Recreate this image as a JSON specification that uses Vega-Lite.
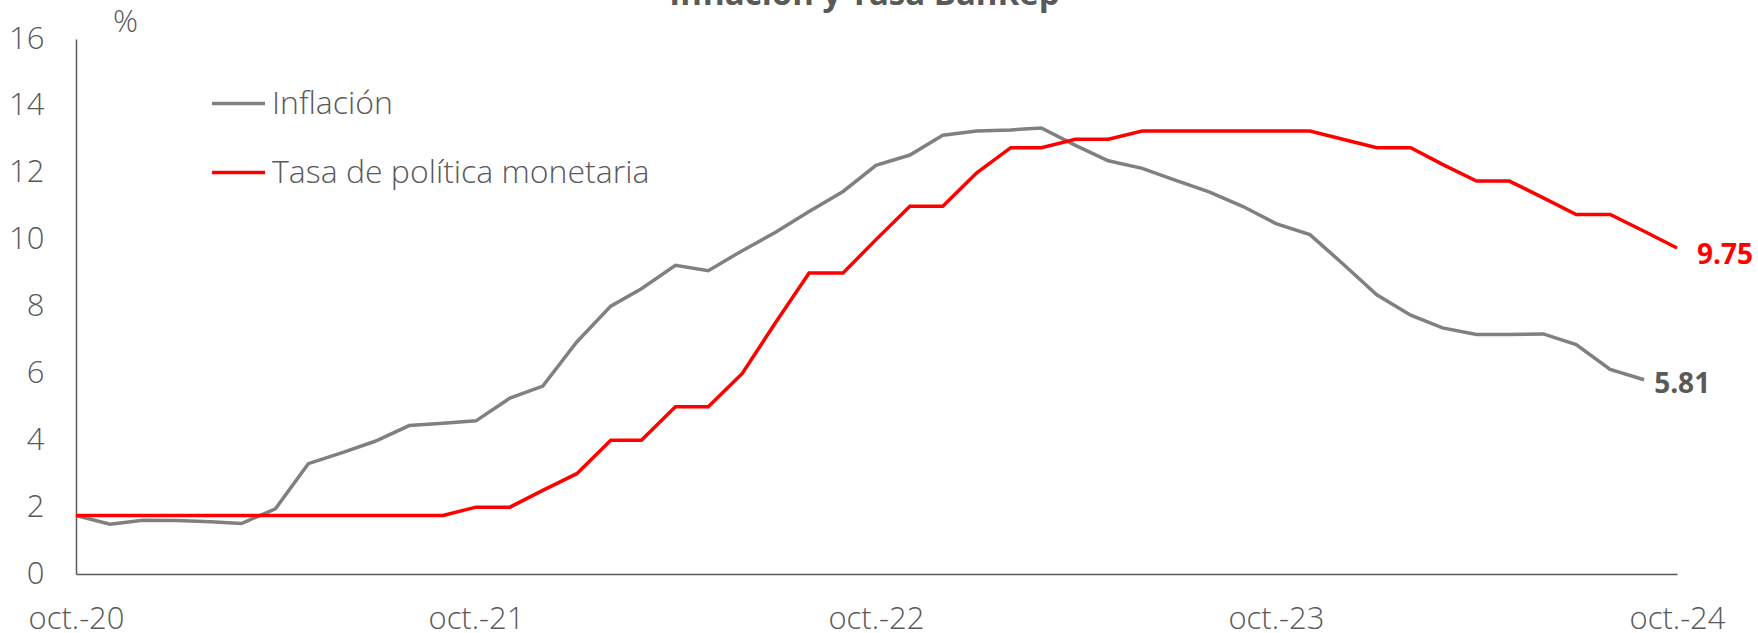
{
  "$schema": "https://vega.github.io/schema/vega-lite/v6.json",
  "width": 1601,
  "height": 535,
  "autosize": {"type": "none"},
  "padding": {"left": 76, "top": 39, "right": 81, "bottom": 59},
  "title": {"text": "Inflación y Tasa BanRep", "fontSize": 33, "font": "Open Sans", "fontWeight": "bold", "color": "#595959", "anchor": "middle", "baseline": "alphabetic", "offset": -32, "dx": -12},
  "config": {"view": {"stroke": null}, "font": "Open Sans"},
  "data": {"values": [
    {"fecha": "2020-10-01", "serie": "Inflación", "valor": 1.75},
    {"fecha": "2020-11-01", "serie": "Inflación", "valor": 1.49},
    {"fecha": "2020-12-01", "serie": "Inflación", "valor": 1.61},
    {"fecha": "2021-01-01", "serie": "Inflación", "valor": 1.60},
    {"fecha": "2021-02-01", "serie": "Inflación", "valor": 1.56},
    {"fecha": "2021-03-01", "serie": "Inflación", "valor": 1.51},
    {"fecha": "2021-04-01", "serie": "Inflación", "valor": 1.95},
    {"fecha": "2021-05-01", "serie": "Inflación", "valor": 3.30},
    {"fecha": "2021-06-01", "serie": "Inflación", "valor": 3.63},
    {"fecha": "2021-07-01", "serie": "Inflación", "valor": 3.97},
    {"fecha": "2021-08-01", "serie": "Inflación", "valor": 4.44},
    {"fecha": "2021-09-01", "serie": "Inflación", "valor": 4.51},
    {"fecha": "2021-10-01", "serie": "Inflación", "valor": 4.58},
    {"fecha": "2021-11-01", "serie": "Inflación", "valor": 5.26},
    {"fecha": "2021-12-01", "serie": "Inflación", "valor": 5.62},
    {"fecha": "2022-01-01", "serie": "Inflación", "valor": 6.94},
    {"fecha": "2022-02-01", "serie": "Inflación", "valor": 8.01},
    {"fecha": "2022-03-01", "serie": "Inflación", "valor": 8.53},
    {"fecha": "2022-04-01", "serie": "Inflación", "valor": 9.23},
    {"fecha": "2022-05-01", "serie": "Inflación", "valor": 9.07},
    {"fecha": "2022-06-01", "serie": "Inflación", "valor": 9.67},
    {"fecha": "2022-07-01", "serie": "Inflación", "valor": 10.21},
    {"fecha": "2022-08-01", "serie": "Inflación", "valor": 10.84},
    {"fecha": "2022-09-01", "serie": "Inflación", "valor": 11.44},
    {"fecha": "2022-10-01", "serie": "Inflación", "valor": 12.22},
    {"fecha": "2022-11-01", "serie": "Inflación", "valor": 12.53},
    {"fecha": "2022-12-01", "serie": "Inflación", "valor": 13.12},
    {"fecha": "2023-01-01", "serie": "Inflación", "valor": 13.25},
    {"fecha": "2023-02-01", "serie": "Inflación", "valor": 13.28},
    {"fecha": "2023-03-01", "serie": "Inflación", "valor": 13.34},
    {"fecha": "2023-04-01", "serie": "Inflación", "valor": 12.82},
    {"fecha": "2023-05-01", "serie": "Inflación", "valor": 12.36},
    {"fecha": "2023-06-01", "serie": "Inflación", "valor": 12.13},
    {"fecha": "2023-07-01", "serie": "Inflación", "valor": 11.78},
    {"fecha": "2023-08-01", "serie": "Inflación", "valor": 11.43},
    {"fecha": "2023-09-01", "serie": "Inflación", "valor": 10.99},
    {"fecha": "2023-10-01", "serie": "Inflación", "valor": 10.48},
    {"fecha": "2023-11-01", "serie": "Inflación", "valor": 10.15},
    {"fecha": "2023-12-01", "serie": "Inflación", "valor": 9.28},
    {"fecha": "2024-01-01", "serie": "Inflación", "valor": 8.35},
    {"fecha": "2024-02-01", "serie": "Inflación", "valor": 7.74},
    {"fecha": "2024-03-01", "serie": "Inflación", "valor": 7.36},
    {"fecha": "2024-04-01", "serie": "Inflación", "valor": 7.16},
    {"fecha": "2024-05-01", "serie": "Inflación", "valor": 7.16},
    {"fecha": "2024-06-01", "serie": "Inflación", "valor": 7.18},
    {"fecha": "2024-07-01", "serie": "Inflación", "valor": 6.86},
    {"fecha": "2024-08-01", "serie": "Inflación", "valor": 6.12},
    {"fecha": "2024-09-01", "serie": "Inflación", "valor": 5.81},
    {"fecha": "2020-10-01", "serie": "Tasa de política monetaria", "valor": 1.75},
    {"fecha": "2020-11-01", "serie": "Tasa de política monetaria", "valor": 1.75},
    {"fecha": "2020-12-01", "serie": "Tasa de política monetaria", "valor": 1.75},
    {"fecha": "2021-01-01", "serie": "Tasa de política monetaria", "valor": 1.75},
    {"fecha": "2021-02-01", "serie": "Tasa de política monetaria", "valor": 1.75},
    {"fecha": "2021-03-01", "serie": "Tasa de política monetaria", "valor": 1.75},
    {"fecha": "2021-04-01", "serie": "Tasa de política monetaria", "valor": 1.75},
    {"fecha": "2021-05-01", "serie": "Tasa de política monetaria", "valor": 1.75},
    {"fecha": "2021-06-01", "serie": "Tasa de política monetaria", "valor": 1.75},
    {"fecha": "2021-07-01", "serie": "Tasa de política monetaria", "valor": 1.75},
    {"fecha": "2021-08-01", "serie": "Tasa de política monetaria", "valor": 1.75},
    {"fecha": "2021-09-01", "serie": "Tasa de política monetaria", "valor": 1.75},
    {"fecha": "2021-10-01", "serie": "Tasa de política monetaria", "valor": 2.0},
    {"fecha": "2021-11-01", "serie": "Tasa de política monetaria", "valor": 2.0},
    {"fecha": "2021-12-01", "serie": "Tasa de política monetaria", "valor": 2.5},
    {"fecha": "2022-01-01", "serie": "Tasa de política monetaria", "valor": 3.0},
    {"fecha": "2022-02-01", "serie": "Tasa de política monetaria", "valor": 4.0},
    {"fecha": "2022-03-01", "serie": "Tasa de política monetaria", "valor": 4.0},
    {"fecha": "2022-04-01", "serie": "Tasa de política monetaria", "valor": 5.0},
    {"fecha": "2022-05-01", "serie": "Tasa de política monetaria", "valor": 5.0},
    {"fecha": "2022-06-01", "serie": "Tasa de política monetaria", "valor": 6.0},
    {"fecha": "2022-07-01", "serie": "Tasa de política monetaria", "valor": 7.5},
    {"fecha": "2022-08-01", "serie": "Tasa de política monetaria", "valor": 9.0},
    {"fecha": "2022-09-01", "serie": "Tasa de política monetaria", "valor": 9.0},
    {"fecha": "2022-10-01", "serie": "Tasa de política monetaria", "valor": 10.0},
    {"fecha": "2022-11-01", "serie": "Tasa de política monetaria", "valor": 11.0},
    {"fecha": "2022-12-01", "serie": "Tasa de política monetaria", "valor": 11.0},
    {"fecha": "2023-01-01", "serie": "Tasa de política monetaria", "valor": 12.0},
    {"fecha": "2023-02-01", "serie": "Tasa de política monetaria", "valor": 12.75},
    {"fecha": "2023-03-01", "serie": "Tasa de política monetaria", "valor": 12.75},
    {"fecha": "2023-04-01", "serie": "Tasa de política monetaria", "valor": 13.0},
    {"fecha": "2023-05-01", "serie": "Tasa de política monetaria", "valor": 13.0},
    {"fecha": "2023-06-01", "serie": "Tasa de política monetaria", "valor": 13.25},
    {"fecha": "2023-07-01", "serie": "Tasa de política monetaria", "valor": 13.25},
    {"fecha": "2023-08-01", "serie": "Tasa de política monetaria", "valor": 13.25},
    {"fecha": "2023-09-01", "serie": "Tasa de política monetaria", "valor": 13.25},
    {"fecha": "2023-10-01", "serie": "Tasa de política monetaria", "valor": 13.25},
    {"fecha": "2023-11-01", "serie": "Tasa de política monetaria", "valor": 13.25},
    {"fecha": "2023-12-01", "serie": "Tasa de política monetaria", "valor": 13.0},
    {"fecha": "2024-01-01", "serie": "Tasa de política monetaria", "valor": 12.75},
    {"fecha": "2024-02-01", "serie": "Tasa de política monetaria", "valor": 12.75},
    {"fecha": "2024-03-01", "serie": "Tasa de política monetaria", "valor": 12.25},
    {"fecha": "2024-04-01", "serie": "Tasa de política monetaria", "valor": 11.75},
    {"fecha": "2024-05-01", "serie": "Tasa de política monetaria", "valor": 11.75},
    {"fecha": "2024-06-01", "serie": "Tasa de política monetaria", "valor": 11.25},
    {"fecha": "2024-07-01", "serie": "Tasa de política monetaria", "valor": 10.75},
    {"fecha": "2024-08-01", "serie": "Tasa de política monetaria", "valor": 10.75},
    {"fecha": "2024-09-01", "serie": "Tasa de política monetaria", "valor": 10.25},
    {"fecha": "2024-10-01", "serie": "Tasa de política monetaria", "valor": 9.75}
  ]},
  "encoding": {
    "x": {
      "field": "fecha", "type": "temporal",
      "scale": {"type": "utc", "domain": [{"year": 2020, "month": 10, "date": 1, "utc": true}, {"year": 2024, "month": 10, "date": 1, "utc": true}]},
      "axis": {
        "title": null,
        "values": [
          {"year": 2020, "month": 10, "date": 1, "utc": true},
          {"year": 2021, "month": 10, "date": 1, "utc": true},
          {"year": 2022, "month": 10, "date": 1, "utc": true},
          {"year": 2023, "month": 10, "date": 1, "utc": true},
          {"year": 2024, "month": 10, "date": 1, "utc": true}
        ],
        "labelExpr": "'oct.-' + utcFormat(datum.value, '%y')",
        "labelFlush": false,
        "labelOverlap": false,
        "grid": false,
        "ticks": false,
        "domainColor": "#595959",
        "domainWidth": 1.5,
        "labelFontSize": 31,
        "labelFontWeight": 300,
        "labelColor": "#595959",
        "labelPadding": 30
      }
    },
    "y": {
      "field": "valor", "type": "quantitative",
      "scale": {"domain": [0, 16], "nice": false},
      "axis": {
        "title": "%",
        "titleAngle": 0,
        "titleX": 49,
        "titleY": -17,
        "titleAlign": "center",
        "titleBaseline": "middle",
        "titleFontSize": 31,
        "titleFontWeight": 300,
        "titleColor": "#595959",
        "values": [0, 2, 4, 6, 8, 10, 12, 14, 16],
        "grid": false,
        "ticks": false,
        "domainColor": "#595959",
        "domainWidth": 1.5,
        "labelFontSize": 31,
        "labelFontWeight": 300,
        "labelColor": "#595959",
        "labelPadding": 32
      }
    }
  },
  "layer": [
    {
      "mark": {"type": "line", "strokeWidth": 3.5},
      "encoding": {
        "color": {
          "field": "serie", "type": "nominal",
          "scale": {"domain": ["Inflación", "Tasa de política monetaria"], "range": ["#808080", "#FF0000"]},
          "legend": {
            "title": null,
            "orient": "none",
            "legendX": 134,
            "legendY": 36,
            "symbolType": "stroke",
            "symbolStrokeWidth": 3.5,
            "symbolSize": 2809,
            "labelFontSize": 32,
            "labelFontWeight": 300,
            "labelColor": "#595959",
            "labelOffset": 5,
            "rowPadding": 24,
            "labelLimit": 0
          }
        }
      }
    },
    {
      "transform": [{"filter": "datum.serie == 'Tasa de política monetaria' && utcyear(datum.fecha) == 2024 && utcmonth(datum.fecha) == 9"}],
      "mark": {"type": "text", "align": "left", "baseline": "middle", "dx": 20, "dy": 8, "fontSize": 28, "fontWeight": "bold", "color": "#FF0000"},
      "encoding": {"text": {"field": "valor", "type": "quantitative", "format": ".2f"}}
    },
    {
      "transform": [{"filter": "datum.serie == 'Inflación' && utcyear(datum.fecha) == 2024 && utcmonth(datum.fecha) == 8"}],
      "mark": {"type": "text", "align": "left", "baseline": "middle", "dx": 10, "dy": 5, "fontSize": 28, "fontWeight": "bold", "color": "#595959"},
      "encoding": {"text": {"field": "valor", "type": "quantitative", "format": ".2f"}}
    }
  ]
}
